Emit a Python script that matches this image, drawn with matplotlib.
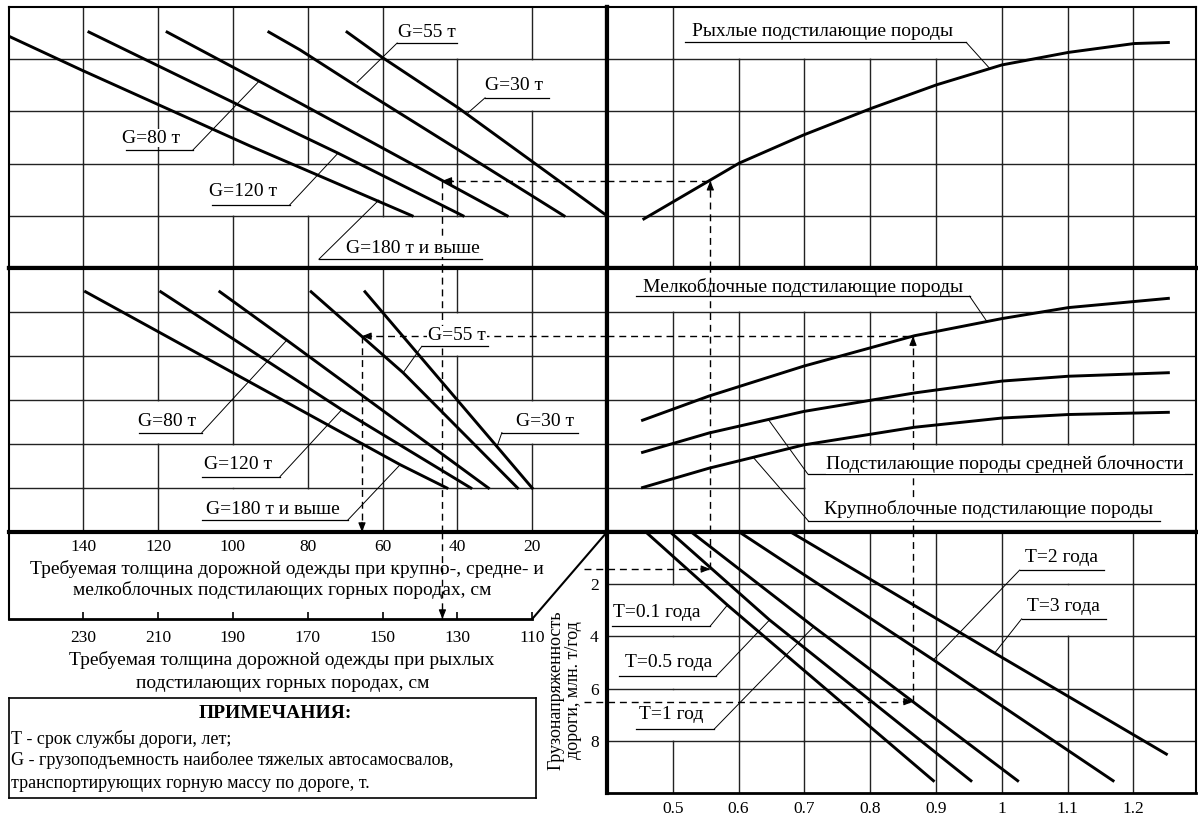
import matplotlib
matplotlib.use('Agg')
import matplotlib.pyplot as plt

plt.rcParams['font.family'] = ['Liberation Serif', 'DejaVu Serif']

# === Данные номограммы ===
# верхний левый блок: рыхлые породы, x - толщина одежды (см), y - условный уровень
tl_labels = ['G=180 т и выше', 'G=120 т', 'G=80 т', 'G=55 т', 'G=30 т']
tl_x = [[249.6, 230.4, 185.5, 142.1],
        [228.5, 172.1, 161.9, 128.5],
        [207.6, 183.0, 172.1, 116.7],
        [180.4, 172.1, 157.1, 101.5],
        [159.5, 150.2, 129.8, 90.0]]
tl_y = [[4.43, 3.79, 2.34, 1.0],
        [4.52, 2.55, 2.20, 1.0],
        [4.52, 3.58, 3.16, 1.0],
        [4.52, 4.18, 3.49, 1.0],
        [4.52, 4.04, 3.07, 1.0]]

# средний левый блок: крупно-, средне- и мелкоблочные породы
ml_x = [[139.4, 55.3, 42.8],
        [119.3, 70.9, 36.4],
        [103.5, 85.6, 31.7],
        [79.1, 54.5, 23.9],
        [64.7, 29.4, 20.0]]
ml_y = [[5.46, 1.53, 1.0],
        [5.46, 2.78, 1.0],
        [5.46, 4.36, 1.0],
        [5.46, 3.62, 1.0],
        [5.46, 1.94, 1.0]]

# верхний правый блок: рыхлые подстилающие породы
tr_q = [0.456, 0.555, 0.601, 0.699, 0.802, 0.901, 1.0, 1.101, 1.201, 1.253]
tr_loose = [0.94, 1.67, 2.01, 2.55, 3.06, 3.51, 3.89, 4.13, 4.30, 4.32]

# средний правый блок
mr_q = [0.454, 0.555, 0.699, 0.867, 1.0, 1.101, 1.253]
mr_small = [2.54, 3.09, 3.77, 4.46, 4.85, 5.10, 5.31]
mr_medium = [1.81, 2.25, 2.74, 3.16, 3.43, 3.54, 3.62]
mr_large = [1.01, 1.45, 1.98, 2.38, 2.59, 2.67, 2.72]

# нижний правый блок: грузонапряженность, млн. т/год
br_labels = ['T=0.1 года', 'T=0.5 года', 'T=1 год', 'T=2 года', 'T=3 года']
br_q = [[0.459, 0.583, 0.896],
        [0.496, 0.647, 0.953],
        [0.528, 0.714, 1.024],
        [0.601, 0.896, 1.169],
        [0.679, 0.989, 1.250]]
br_load = [[0.0, 2.80, 9.53],
           [0.0, 3.37, 9.53],
           [0.0, 3.63, 9.53],
           [0.0, 4.90, 9.53],
           [0.0, 4.64, 8.51]]

# шкалы
block_ticks = [140, 120, 100, 80, 60, 40, 20]
loose_ticks = [230, 210, 190, 170, 150, 130, 110]
q_ticks = [0.5, 0.6, 0.7, 0.8, 0.9, 1.0, 1.1, 1.2]
q_ticklabels = ['0.5', '0.6', '0.7', '0.8', '0.9', '1', '1.1', '1.2']
load_ticks = [2, 4, 6, 8]

# примеры (пунктирные ключи)
ex1 = dict(load=1.42, q=0.557, level=1.67, loose=134.0)
ex2 = dict(load=6.5, q=0.865, level=4.45, block=65.5)

W, H = 1198, 816
fig = plt.figure(figsize=(W / 100, H / 100), dpi=100)


def px_axes(x0, y0, x1, y1):
    return fig.add_axes([x0 / W, 1 - y1 / H, (x1 - x0) / W, (y1 - y0) / H])


GRID = '#222222'
CURVE_LW = 2.1
DASH = (0, (5, 3.5))


def setup(ax, xlim, ylim, lw=(1.5, 3.0, 3.0, 1.5)):
    # lw: top, right, bottom, left
    ax.set_xlim(*xlim)
    ax.set_ylim(*ylim)
    ax.set_xticks([])
    ax.set_yticks([])
    for side, w in zip(['top', 'right', 'bottom', 'left'], lw):
        if w:
            ax.spines[side].set_linewidth(w)
        else:
            ax.spines[side].set_visible(False)


def draw_grid(ax, xs, ys, skip_v=(), skip_h=()):
    x0, x1 = sorted(ax.get_xlim())
    y0, y1 = sorted(ax.get_ylim())
    yed = [y0] + list(ys) + [y1]
    xed = [x0] + sorted(xs) + [x1]
    for x in xs:
        for i in range(len(yed) - 1):
            if (round(x, 2), i) in skip_v:
                continue
            ax.plot([x, x], [yed[i], yed[i + 1]], color=GRID, lw=1.0, zorder=1)
    for y in ys:
        for j in range(len(xed) - 1):
            if (round(y, 2), j) in skip_h:
                continue
            ax.plot([xed[j], xed[j + 1]], [y, y], color=GRID, lw=1.0, zorder=1)


def tag(ax, text, txy, ul, ul_y, lead, fs=14, box=True):
    kw = dict(bbox=dict(fc='white', ec='none', pad=0.5)) if box else {}
    ax.text(txy[0], txy[1], text, ha='center', va='center', fontsize=fs, zorder=6, **kw)
    ax.plot(ul, [ul_y, ul_y], color='k', lw=0.9, zorder=5)
    ax.plot([lead[0], lead[1]], [ul_y, lead[2]], color='k', lw=0.7, zorder=5)


def dashed(ax, xs, ys, **kw):
    ax.plot(xs, ys, color='k', lw=1.0, ls=DASH, zorder=3, **kw)


def arrow(ax, xy, direction):
    off = {'left': (7, 0), 'right': (-7, 0), 'up': (0, -7), 'down': (0, 7)}[direction]
    ax.annotate('', xy=xy, xytext=off, textcoords='offset points',
                arrowprops=dict(arrowstyle='-|>,head_length=0.55,head_width=0.22',
                                color='k', lw=0.8, shrinkA=0, shrinkB=0), zorder=7)


# === оси ===
ax_tl = px_axes(8.5, 7, 607, 268)
ax_tr = px_axes(607, 7, 1196, 268)
ax_ml = px_axes(8.5, 268, 607, 532)
ax_mr = px_axes(607, 268, 1196, 532)
ax_br = px_axes(607, 532, 1196, 793)
ax_bl = px_axes(8.5, 532, 607, 619)
ax_nt = px_axes(8.6, 698, 536, 798)

setup(ax_tl, (250, 90), (0, 5), lw=(1.5, 3.0, 3.0, 1.5))
setup(ax_tr, (0.4, 1.295), (0, 5), lw=(1.5, 1.5, 3.0, 3.0))
setup(ax_ml, (160, 0), (0, 6), lw=(3.0, 3.0, 3.0, 1.5))
setup(ax_mr, (0.4, 1.295), (0, 6), lw=(3.0, 1.5, 3.0, 3.0))
setup(ax_br, (0.4, 1.295), (10, 0), lw=(3.0, 1.5, 2.0, 3.0))

# сетки
draw_grid(ax_tl, loose_ticks, [1, 2, 3, 4],
          skip_v={(130, 4), (110, 3), (190, 1), (170, 1), (150, 0), (130, 0)})
draw_grid(ax_ml, block_ticks, [1, 2, 3, 4, 5],
          skip_v={(40, 4), (120, 2), (20, 2), (100, 1), (100, 0), (80, 0)})
draw_grid(ax_tr, q_ticks, [1, 2, 3, 4],
          skip_v={(0.6, 4), (0.7, 4), (0.8, 4), (0.9, 4)})
mr_skip = {(0.5, 5), (0.6, 5), (0.7, 5), (0.8, 5), (0.9, 5)}
for v in [0.8, 0.9, 1.0, 1.1, 1.2]:
    mr_skip |= {(v, 0), (v, 1)}
draw_grid(ax_mr, q_ticks, [1, 2, 3, 4, 5], skip_v=mr_skip,
          skip_h={(1, j) for j in range(3, 9)})
draw_grid(ax_br, q_ticks, load_ticks,
          skip_v={(1.1, 0), (0.5, 1), (1.1, 1), (0.5, 2), (0.5, 3)})

# кривые
for xs, ys in zip(tl_x, tl_y):
    ax_tl.plot(xs, ys, color='k', lw=CURVE_LW, zorder=4)
for xs, ys in zip(ml_x, ml_y):
    ax_ml.plot(xs, ys, color='k', lw=CURVE_LW, zorder=4)
ax_tr.plot(tr_q, tr_loose, color='k', lw=CURVE_LW, zorder=4)
for ys in [mr_small, mr_medium, mr_large]:
    ax_mr.plot(mr_q, ys, color='k', lw=CURVE_LW, zorder=4)
for xs, ys in zip(br_q, br_load):
    ax_br.plot(xs, ys, color='k', lw=CURVE_LW, zorder=4)

# подписи кривых
tag(ax_tl, 'G=55 т', (138.1, 4.52), (146.1, 130.1), 4.31, (146.1, 156.8, 3.56))
tag(ax_tl, 'G=30 т', (114.9, 3.49), (122.6, 105.5), 3.26, (122.6, 127.2, 2.97))
tag(ax_tl, 'G=80 т', (211.9, 2.49), (218.6, 200.7), 2.26, (200.7, 183.0, 3.58))
tag(ax_tl, 'G=120 т', (187.3, 1.46), (195.6, 174.8), 1.21, (174.8, 161.9, 2.20))
tag(ax_tl, 'G=180 т и выше', (141.9, 0.38), (167.0, 123.3), 0.17, (167.0, 151.0, 1.30))

tag(ax_tr, 'Рыхлые подстилающие породы', (0.7275, 4.53), (0.518, 0.946), 4.32, (0.946, 0.981, 3.83))

tag(ax_ml, 'G=55 т', (40.1, 4.46), (49.5, 31.8), 4.22, (49.5, 54.5, 3.62))
tag(ax_ml, 'G=30 т', (16.6, 2.52), (28.1, 7.8), 2.26, (28.1, 29.4, 1.94))
tag(ax_ml, 'G=80 т', (117.6, 2.52), (125.1, 108.3), 2.26, (108.3, 85.6, 4.36))
tag(ax_ml, 'G=120 т', (98.7, 1.53), (108.3, 87.4), 1.26, (87.4, 70.9, 2.78))
tag(ax_ml, 'G=180 т и выше', (89.3, 0.52), (108.3, 69.3), 0.27, (69.3, 55.3, 1.53))

tag(ax_mr, 'Мелкоблочные подстилающие породы', (0.698, 5.57), (0.444, 0.951), 5.36,
    (0.951, 0.977, 4.79), box=False)
tag(ax_mr, 'Подстилающие породы средней блочности', (1.005, 1.55), (0.705, 1.289), 1.32, (0.705, 0.645, 2.56))
tag(ax_mr, 'Крупноблочные подстилающие породы', (0.980, 0.525), (0.706, 1.241), 0.25, (0.706, 0.622, 1.70))

tag(ax_br, 'T=2 года', (1.090, 0.96), (1.027, 1.155), 1.46, (1.027, 0.896, 4.90))
tag(ax_br, 'T=3 года', (1.093, 2.84), (1.030, 1.158), 3.33, (1.030, 0.989, 4.64))
tag(ax_br, 'T=0.1 года', (0.476, 3.10), (0.407, 0.557), 3.60, (0.557, 0.583, 2.80))
tag(ax_br, 'T=0.5 года', (0.494, 5.01), (0.418, 0.566), 5.52, (0.566, 0.647, 3.37))
tag(ax_br, 'T=1 год', (0.498, 7.01), (0.444, 0.563), 7.55, (0.563, 0.714, 3.63))

# оси нижнего правого блока
ax_br.set_xticks(q_ticks)
ax_br.set_xticklabels(q_ticklabels, fontsize=12.5)
ax_br.set_yticks(load_ticks)
ax_br.set_yticklabels([str(t) for t in load_ticks], fontsize=12.5)
ax_br.tick_params(axis='both', length=0, pad=6)
ax_br.text(0.336, 6.05, 'Грузонапряженность\nдороги, млн. т/год', rotation=90,
           ha='center', va='center', multialignment='center', fontsize=13,
           linespacing=1.0, clip_on=False)

# шкалы толщины (блок слева внизу)
ax_bl.set_xlim(160, 0)
ax_bl.set_ylim(0, 1)
ax_bl.patch.set_visible(False)
for side in ['top', 'right']:
    ax_bl.spines[side].set_visible(False)
ax_bl.spines['left'].set_linewidth(1.5)
ax_bl.spines['bottom'].set_linewidth(2.0)
ax_bl.spines['bottom'].set_bounds(20, 160)
ax_bl.plot([20, 0], [0, 1], color='k', lw=1.5, clip_on=False)
ax_bl.set_yticks([])
ax_bl.set_xticks([v - 90 for v in loose_ticks])
ax_bl.set_xticklabels([str(v) for v in loose_ticks], fontsize=12.5)
ax_bl.tick_params(axis='x', direction='in', length=5, width=1.2, pad=8)
for v in block_ticks:
    ax_bl.text(v, 0.83, str(v), ha='center', va='center', fontsize=12.5)
ax_bl.text(85.6, 0.575, 'Требуемая толщина дорожной одежды при крупно-, средне- и',
           ha='center', va='center', fontsize=14)
ax_bl.text(86.9, 0.333, 'мелкоблочных подстилающих горных породах, см',
           ha='center', va='center', fontsize=14)
ax_bl.text(87.0, -0.47, 'Требуемая толщина дорожной одежды при рыхлых',
           ha='center', va='center', fontsize=14, clip_on=False)
ax_bl.text(86.6, -0.736, 'подстилающих горных породах, см',
           ha='center', va='center', fontsize=14, clip_on=False)

# ключ 1: рыхлые породы
dashed(ax_br, [0.365, ex1['q']], [ex1['load']] * 2, clip_on=False)
arrow(ax_br, (ex1['q'], ex1['load']), 'right')
dashed(ax_br, [ex1['q']] * 2, [ex1['load'], 0])
dashed(ax_mr, [ex1['q']] * 2, [0, 6])
dashed(ax_tr, [ex1['q']] * 2, [0, ex1['level']])
arrow(ax_tr, (ex1['q'], ex1['level']), 'up')
dashed(ax_tr, [0.4, ex1['q']], [ex1['level']] * 2)
dashed(ax_tl, [90, ex1['loose']], [ex1['level']] * 2)
arrow(ax_tl, (ex1['loose'], ex1['level']), 'left')
dashed(ax_tl, [ex1['loose']] * 2, [ex1['level'], 0])
dashed(ax_ml, [ex1['loose'] - 90] * 2, [0, 6])
dashed(ax_bl, [ex1['loose'] - 90] * 2, [1, 0])
arrow(ax_bl, (ex1['loose'] - 90, 0), 'down')

# ключ 2: мелкоблочные породы
dashed(ax_br, [0.365, ex2['q']], [ex2['load']] * 2, clip_on=False)
arrow(ax_br, (ex2['q'], ex2['load']), 'right')
dashed(ax_br, [ex2['q']] * 2, [ex2['load'], 0])
dashed(ax_mr, [ex2['q']] * 2, [0, ex2['level']])
arrow(ax_mr, (ex2['q'], ex2['level']), 'up')
dashed(ax_mr, [0.4, ex2['q']], [ex2['level']] * 2)
dashed(ax_ml, [0, ex2['block']], [ex2['level']] * 2)
arrow(ax_ml, (ex2['block'], ex2['level']), 'left')
dashed(ax_ml, [ex2['block']] * 2, [ex2['level'], 0])
arrow(ax_ml, (ex2['block'], 0), 'down')

# примечания
ax_nt.set_xticks([])
ax_nt.set_yticks([])
for s in ax_nt.spines.values():
    s.set_linewidth(1.2)
ax_nt.text(0.505, 0.85, 'ПРИМЕЧАНИЯ:', ha='center', va='center', fontsize=14, fontweight='bold')
ax_nt.text(0.004, 0.59, 'Т - срок службы дороги, лет;', ha='left', va='center', fontsize=13)
ax_nt.text(0.004, 0.38, 'G - грузоподъемность наиболее тяжелых автосамосвалов,',
           ha='left', va='center', fontsize=13)
ax_nt.text(0.004, 0.15, 'транспортирующих горную массу по дороге, т.',
           ha='left', va='center', fontsize=13)

fig.savefig('out.png', dpi=100)
